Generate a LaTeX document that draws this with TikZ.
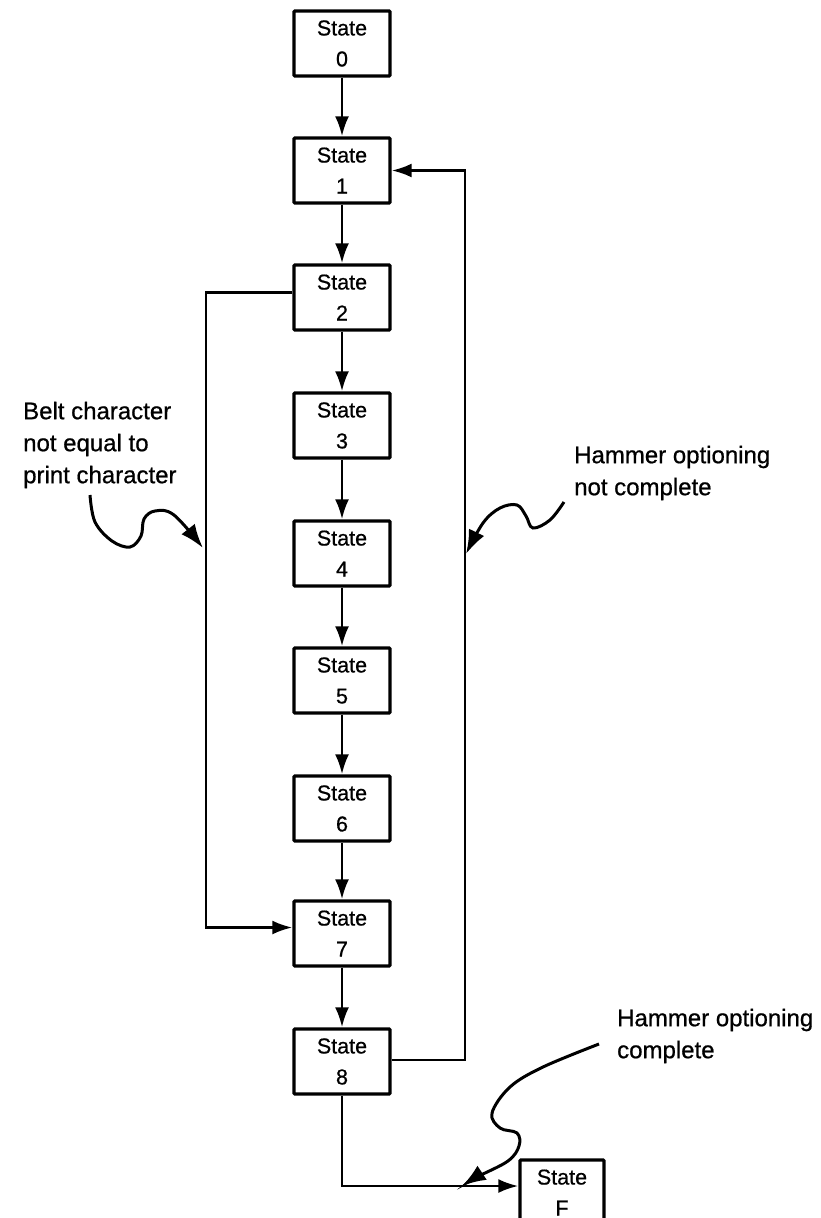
\documentclass[tikz,border=0pt]{standalone}
\usepackage{fontspec}
\setmainfont{Liberation Sans}[FakeBold=0.7]
\usetikzlibrary{arrows.meta}
\tikzset{
  stbox/.style={draw, line width=3.4pt, rounded corners=1pt, minimum width=96pt, minimum height=65pt,
    inner sep=0pt, align=center, font=\fontsize{21.5}{31}\selectfont},
  conn/.style={line width=2.6pt, -{Latex[length=20pt,width=14pt]}},
  squig/.style={line width=3pt, -{Latex[length=24pt,width=17pt]}},
  lbl/.style={inner sep=0pt, align=left, anchor=west, font=\fontsize{24}{32}\selectfont}
}
\begin{document}
\begin{tikzpicture}[x=1pt,y=-1pt]
\useasboundingbox (0,0) rectangle (821,1218);
% states
\node[stbox] (s0) at (342,43.5) {State\\0};
\node[stbox] (s1) at (342,170.5) {State\\1};
\node[stbox] (s2) at (342,297.5) {State\\2};
\node[stbox] (s3) at (342,425.5) {State\\3};
\node[stbox] (s4) at (342,553.5) {State\\4};
\node[stbox] (s5) at (342,680.5) {State\\5};
\node[stbox] (s6) at (342,808.5) {State\\6};
\node[stbox] (s7) at (342,933.5) {State\\7};
\node[stbox] (s8) at (342,1061.5) {State\\8};
\node[stbox, minimum width=84pt] (sF) at (562,1192.5) {State\\F};
% chain
\foreach \a/\b in {s0/s1,s1/s2,s2/s3,s3/s4,s4/s5,s5/s6,s6/s7,s7/s8}
  \draw[conn] (\a.south) -- (\b.north);
% left loop
\coordinate (lx) at (206,600);
\draw[conn] ([yshift=5pt]s2.west) -| (lx) |- ([yshift=6pt]s7.west);
% right loop
\coordinate (rx) at (465,600);
\draw[conn] ([yshift=1.5pt]s8.east) -| (rx) |- (s1.east);
% bottom
\draw[conn] (s8.south) |- ([yshift=6.5pt]sF.west);
% labels
\node[lbl] (lb1) at (23,445) {Belt character\\not equal to\\print character};
\node[lbl] (lb2) at (574,473) {Hammer optioning\\not complete};
\node[lbl] (lb3) at (617,1036) {Hammer optioning\\complete};
% squiggles
\draw[squig] plot[smooth, tension=0.6] coordinates {(90,495) (95,522) (112,541) (130,547) (141,536) (144,519) (155,511) (174,515) (203,548)};
\draw[squig] plot[smooth, tension=0.6] coordinates {(564,502) (550,520) (533,528) (526,516) (517,505) (500,508) (483,523) (466,554)};
\draw[squig] plot[smooth, tension=0.6] coordinates {(599,1044) (543,1067) (510,1087) (492,1113) (500,1128) (517,1133) (519,1146) (508,1161) (477,1177) (462,1186)};
\end{tikzpicture}
\end{document}
